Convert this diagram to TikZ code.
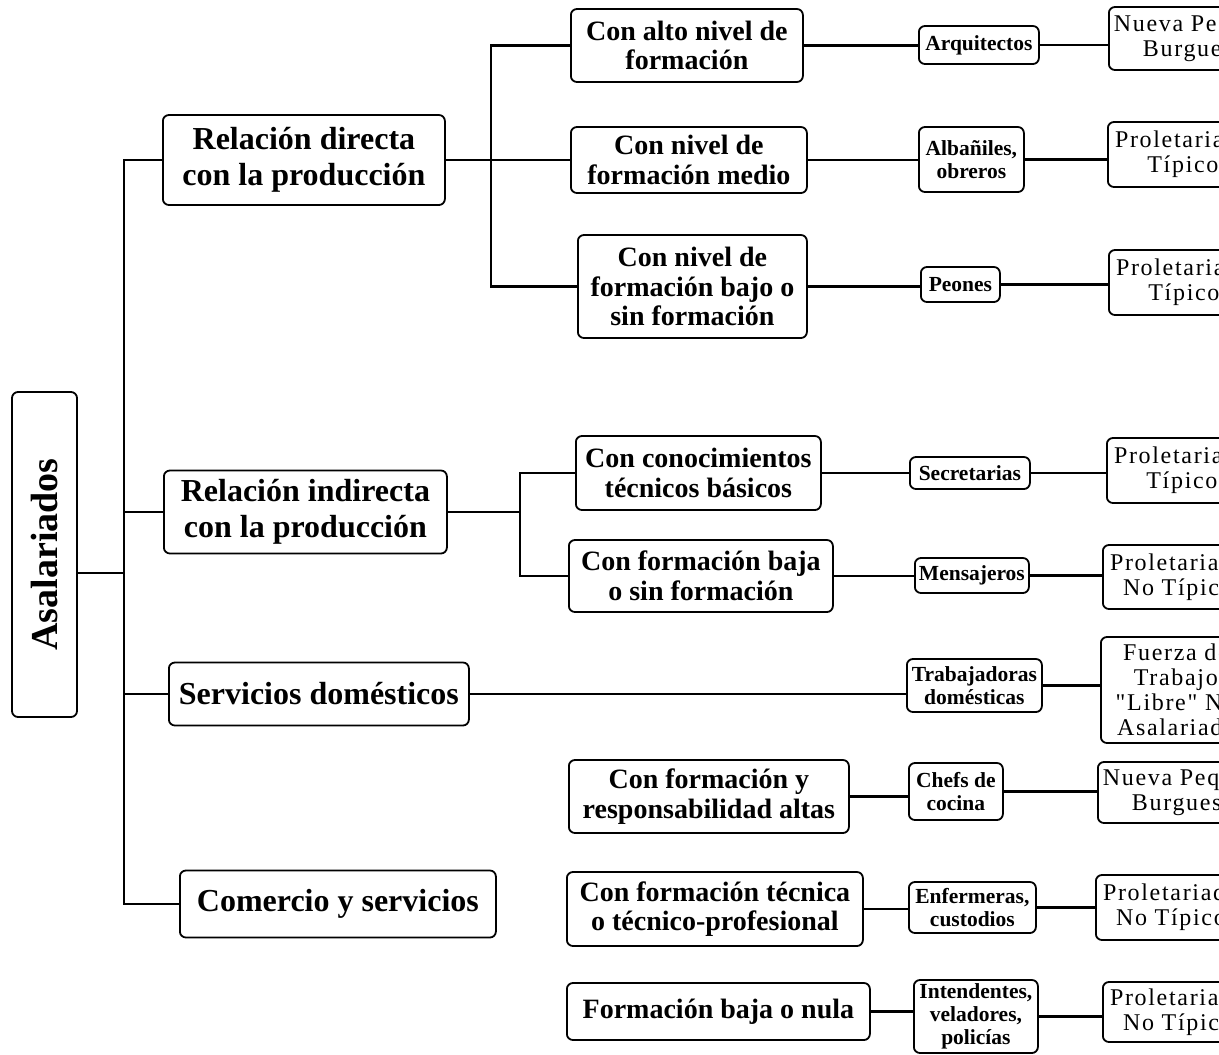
\documentclass[tikz,border=0pt]{standalone}
\usepackage{fontspec}
\usepackage{graphicx}
\setmainfont{Liberation Serif}
\newfontfamily\spacedfont[LetterSpace=7]{Liberation Serif}

\begin{document}
\begin{tikzpicture}[x=1pt,y=-1pt,
  box/.style={draw, line width=1.8pt, rounded corners=6pt, align=center,
              anchor=west, inner sep=0pt},
  toplevel/.style={box, font=\bfseries\fontsize{32}{36}\selectfont},
  midlevel/.style={box, font=\bfseries\fontsize{28}{29.5}\selectfont},
  joblevel/.style={box, font=\bfseries\fontsize{21.5}{23}\selectfont, inner xsep=2pt},
  classlevel/.style={box, font=\spacedfont\fontsize{24}{25}\selectfont, inner xsep=5pt},
  link/.style={line width=2.2pt}]

\useasboundingbox (0,0) rectangle (1219,1055);
\clip (0,0) rectangle (1219,1055);

% root
\node[box, anchor=center, minimum width=65pt, minimum height=325pt] (root) at (44.5,554.5)
  {\rotatebox{90}{\bfseries\fontsize{38}{40}\selectfont Asalariados}};

% first level
\node[toplevel, minimum width=282pt, minimum height=90pt] (d2) at (162,160) {Relación directa\\con la producción};
\node[toplevel, minimum width=283pt, minimum height=83pt] (i2) at (163,512) {Relación indirecta\\con la producción};
\node[toplevel, minimum width=300pt, minimum height=63pt] (s2) at (168,694) {Servicios domésticos};
\node[toplevel, minimum width=316pt, minimum height=67pt] (c2) at (179,904) {Comercio y servicios};

% second level
\node[midlevel, minimum width=232pt, minimum height=73pt] (a3) at (570,45.5) {Con alto nivel de\\formación};
\node[midlevel, minimum width=236pt, minimum height=66pt] (b3) at (570,160) {Con nivel de\\formación medio};
\node[midlevel, minimum width=229pt, minimum height=103pt] (c3) at (577,286.5) {Con nivel de\\formación bajo o\\sin formación};
\node[midlevel, minimum width=245pt, minimum height=74pt] (e3) at (575,473) {Con conocimientos\\técnicos básicos};
\node[midlevel, minimum width=264pt, minimum height=72pt] (f3) at (568,576) {Con formación baja\\o sin formación};
\node[midlevel, minimum width=280pt, minimum height=73pt] (g3) at (568,796.5) {Con formación y\\responsabilidad altas};
\node[midlevel, minimum width=296pt, minimum height=74pt] (h3) at (566,909) {Con formación técnica\\o técnico-profesional};
\node[midlevel, minimum width=303pt, minimum height=57pt] (k3) at (566,1011.5) {Formación baja o nula};

% occupations
\node[joblevel, minimum width=120pt, minimum height=38pt] (a4) at (918,45) {Arquitectos};
\node[joblevel, minimum width=105pt, minimum height=65pt] (b4) at (918,159.5) {Albañiles,\\obreros};
\node[joblevel, minimum width=79pt, minimum height=35pt] (c4) at (920,284.5) {Peones};
\node[joblevel, minimum width=120pt, minimum height=32pt] (e4) at (909,473) {Secretarias};
\node[joblevel, minimum width=114pt, minimum height=35pt] (f4) at (914,575.5) {Mensajeros};
\node[joblevel, minimum width=135pt, minimum height=53pt] (g4) at (906,685.5) {Trabajadoras\\domésticas};
\node[joblevel, minimum width=94pt, minimum height=57pt] (h4) at (908,791.5) {Chefs de\\cocina};
\node[joblevel, minimum width=127pt, minimum height=51pt] (k4) at (908,907.5) {Enfermeras,\\custodios};
\node[joblevel, minimum width=124pt, minimum height=73pt] (m4) at (913,1016.5) {Intendentes,\\veladores,\\policías};

% class positions
\node[classlevel, minimum width=150pt, minimum height=63pt] (a5) at (1108,38.5) {Nueva Pequeña\\Burguesía};
\node[classlevel, minimum width=150pt, minimum height=65pt] (b5) at (1107,154.5) {Proletariado\\Típico};
\node[classlevel, minimum width=150pt, minimum height=65pt] (c5) at (1108,282.5) {Proletariado\\Típico};
\node[classlevel, minimum width=150pt, minimum height=65pt] (e5) at (1106,470.5) {Proletariado\\Típico};
\node[classlevel, minimum width=150pt, minimum height=64pt] (f5) at (1102,577) {Proletariado\\No Típico};
\node[classlevel, minimum width=150pt, minimum height=106pt] (g5) at (1100,690) {Fuerza de\\Trabajo\\"Libre" No\\Asalariada};
\node[classlevel, minimum width=150pt, minimum height=61pt] (h5) at (1097,792.5) {Nueva Pequeña\\Burguesía};
\node[classlevel, minimum width=150pt, minimum height=65pt] (k5) at (1095,907.5) {Proletariado\\No Típico};
\node[classlevel, minimum width=150pt, minimum height=60pt] (m5) at (1102,1012) {Proletariado\\No Típico};

% trunk x positions
\coordinate (mx) at (124,0);
\coordinate (dx) at (491,0);
\coordinate (ix) at (520,0);
\coordinate (rj) at (124,573);

% main trunk
\draw[link] (d2.west) -- (d2.west -| mx) |- (c2.west);
\draw[link] (i2.west) -- (i2.west -| mx);
\draw[link] (s2.west) -- (s2.west -| mx);
\draw[link] (rj) -- (rj -| root.east);

% direct production branch
\draw[link] (a3.west) -- (a3.west -| dx) |- (c3.west);
\draw[link] (d2.east) -- (d2.east -| b3.west);

% indirect production branch
\draw[link] (e3.west) -- (e3.west -| ix) |- (f3.west);
\draw[link] (i2.east) -- (i2.east -| ix);

% domestic services
\draw[link] (s2.east) -- (s2.east -| g4.west);

% rows: category to occupation to class
\foreach \p/\q in {a3/a4, b3/b4, c3/c4, e3/e4, f3/f4, g3/h4, h3/k4, k3/m4,
                   a4/a5, b4/b5, c4/c5, e4/e5, f4/f5, g4/g5, h4/h5, k4/k5, m4/m5}
  \draw[link] (\p.east) -- (\p.east -| \q.west);

\end{tikzpicture}
\end{document}
